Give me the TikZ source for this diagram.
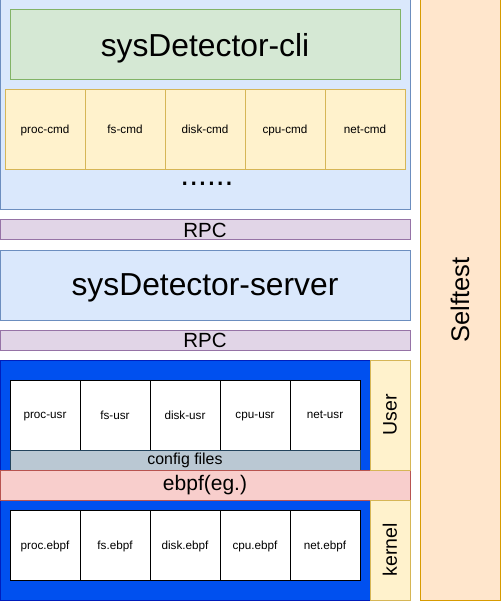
\documentclass[tikz,border=0pt]{standalone}
\usepackage{fontspec}
\setmainfont{Liberation Sans}
\definecolor{blueFill}{HTML}{DAE8FC}
\definecolor{blueLine}{HTML}{6C8EBF}
\definecolor{greenFill}{HTML}{D5E8D4}
\definecolor{greenLine}{HTML}{82B366}
\definecolor{yellowFill}{HTML}{FFF2CC}
\definecolor{yellowLine}{HTML}{D6B656}
\definecolor{purpleFill}{HTML}{E1D5E7}
\definecolor{purpleLine}{HTML}{9673A6}
\definecolor{darkFill}{HTML}{0050EF}
\definecolor{darkLine}{HTML}{001DBC}
\definecolor{greyFill}{HTML}{BAC8D3}
\definecolor{greyLine}{HTML}{23445D}
\definecolor{redFill}{HTML}{F8CECC}
\definecolor{redLine}{HTML}{B85450}
\definecolor{orangeFill}{HTML}{FFE6CC}
\definecolor{orangeLine}{HTML}{D79B00}
\tikzset{
  box/.style={draw, line width=1pt, inner sep=0pt, outer sep=0pt, anchor=center, text=black},
  bluebox/.style={box, fill=blueFill, draw=blueLine},
  cmdbox/.style={box, fill=yellowFill, draw=yellowLine, minimum width=80pt, minimum height=80pt, font=\fontsize{11.7}{14}\selectfont, text depth=1pt},
  rpcbox/.style={box, fill=purpleFill, draw=purpleLine, minimum width=410pt, minimum height=20pt, font=\fontsize{20.5}{24}\selectfont},
  whitebox/.style={box, fill=white, draw=black, minimum width=70pt, minimum height=70pt, font=\fontsize{11.7}{14}\selectfont, text depth=0pt},
  sidebox/.style={box, fill=yellowFill, draw=yellowLine, minimum width=40pt, font=\fontsize{19.5}{23}\selectfont},
  bigtext/.style={font=\fontsize{31.8}{36}\selectfont, text depth=1pt}
}
\begin{document}
\begin{tikzpicture}[x=1pt,y=-1pt]
\useasboundingbox (0,0) rectangle (501,601);
% CLI block
\node[bluebox, minimum width=410pt, minimum height=210pt] (cli) at (205,105) {};
\node[box, fill=greenFill, draw=greenLine, minimum width=390pt, minimum height=70pt, bigtext] (clititle) at (205,45) {sysDetector-cli};
\node[cmdbox] (cmd1) at (45,130) {proc-cmd};
\node[cmdbox] (cmd2) at (125,130) {fs-cmd};
\node[cmdbox] (cmd3) at (205,130) {disk-cmd};
\node[cmdbox] (cmd4) at (285,130) {cpu-cmd};
\node[cmdbox] (cmd5) at (365,130) {net-cmd};
\node[inner sep=0pt, bigtext] (dots) at (207,184) {......};
% RPC / server
\node[rpcbox] (rpc1) at (205,230) {RPC};
\node[bluebox, minimum width=410pt, minimum height=70pt, bigtext] (server) at (205,285) {sysDetector-server};
\node[rpcbox] (rpc2) at (205,340) {RPC};
% core block
\node[box, fill=darkFill, draw=darkLine, minimum width=370pt, minimum height=240pt] (core) at (185,480) {};
\node[whitebox] (usr1) at (45,415) {proc-usr};
\node[whitebox] (usr2) at (115,415) {fs-usr};
\node[whitebox] (usr3) at (185,415) {disk-usr};
\node[whitebox] (usr4) at (255,415) {cpu-usr};
\node[whitebox] (usr5) at (325,415) {net-usr};
\node[box, fill=greyFill, draw=greyLine, minimum width=350pt, minimum height=20pt, font=\fontsize{15.9}{19}\selectfont] (config) at (185,460) {config files};
\node[box, fill=redFill, draw=redLine, minimum width=410pt, minimum height=30pt, font=\fontsize{21}{25}\selectfont] (ebpf) at (205,485) {ebpf(eg.)};
\node[whitebox] (bpf1) at (45,545) {proc.ebpf};
\node[whitebox] (bpf2) at (115,545) {fs.ebpf};
\node[whitebox] (bpf3) at (185,545) {disk.ebpf};
\node[whitebox] (bpf4) at (255,545) {cpu.ebpf};
\node[whitebox] (bpf5) at (325,545) {net.ebpf};
\node[sidebox, minimum height=110pt] (user) at (390,415) {};
\node[rotate=90, font=\fontsize{19.5}{23}\selectfont, inner sep=0pt] (usertext) at (user.center) {User};
\node[sidebox, minimum height=100pt] (kernel) at (390,550) {};
\node[rotate=90, font=\fontsize{19.5}{23}\selectfont, inner sep=0pt] (kerneltext) at (kernel.center) {kernel};
% selftest
\node[box, fill=orangeFill, draw=orangeLine, minimum width=80pt, minimum height=600pt] (selftest) at (460,300) {};
\node[rotate=90, font=\fontsize{25.5}{30}\selectfont, inner sep=0pt] (selftesttext) at (selftest.center) {Selftest};
\end{tikzpicture}
\end{document}
